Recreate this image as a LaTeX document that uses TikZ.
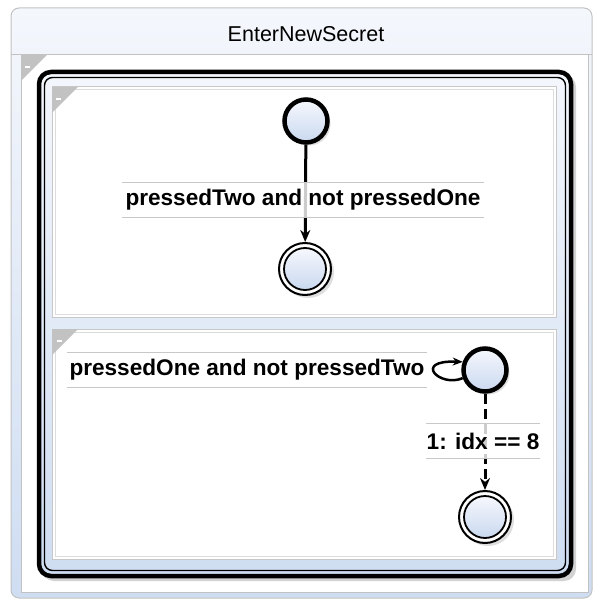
\documentclass[tikz,border=0pt]{standalone}
\usepackage{fontspec}
\setmainfont{Liberation Sans}
\usetikzlibrary{arrows.meta,shadows}
\definecolor{panelgray}{HTML}{C2C2C2}
\definecolor{regiongray}{HTML}{C8C8C8}
\definecolor{regionlight}{HTML}{DCDCDC}
\definecolor{lightblue}{HTML}{CFDDF2}
\definecolor{paleblue}{HTML}{F4F7FC}
\definecolor{statetop}{HTML}{F6F8FD}
\definecolor{statebottom}{HTML}{C9D8EF}
\definecolor{lblgray}{HTML}{C8C8C8}
\tikzset{
  statebox/.style={circle, draw=black, line width=4.5pt, minimum size=43pt, inner sep=0pt,
    top color=statetop, bottom color=statebottom,
    drop shadow={shadow xshift=3pt, shadow yshift=-3pt, opacity=0.25}},
  finalbox/.style={circle, draw=black, line width=2pt, minimum size=52pt, inner sep=0pt,
    fill=white, drop shadow={shadow xshift=3pt, shadow yshift=-3pt, opacity=0.25}},
  innerring/.style={draw=black, line width=1.8pt, top color=statetop, bottom color=statebottom},
  arr/.style={line width=3pt, -{Stealth[length=12pt,width=10pt]}},
  lblline/.style={draw=lblgray, line width=1.2pt},
  lbl/.style={font=\bfseries\fontsize{22.6}{22.6}\selectfont, fill=white, fill opacity=0.8,
    text opacity=1, minimum height=34pt, inner xsep=0pt, inner ysep=0pt},
  corner/.style={fill=panelgray, draw=none},
  dashmark/.style={draw=white, line width=1.2pt},
}
\begin{document}
\begin{tikzpicture}[x=1pt,y=-1pt]
\useasboundingbox (0,0) rectangle (593,601);
% outer box
\draw[draw=panelgray, line width=1pt, rounded corners=8pt, top color=paleblue, bottom color=lightblue]
  (11,8) rectangle (592,598);
\node[font=\fontsize{21.5}{21.5}\selectfont] (title) at (306,34) {EnterNewSecret};
% panel
\draw[draw=panelgray, line width=1pt, fill=white] (21,55) rectangle (588,592);
\draw[draw=panelgray, line width=1pt] (11,55) -- (592,55);
\fill[corner] (21,55) -- (47,55) -- (21,81) -- cycle;
\draw[dashmark] (25,67) -- (30,67);
% composite state border
\fill[gray, opacity=0.35, rounded corners=12pt] (42,75) rectangle (576,581);
\draw[line width=4.5pt, draw=black, rounded corners=12pt, top color=paleblue, bottom color=lightblue]
  (39,72) rectangle (571,576);
\draw[line width=1.4pt, draw=black, rounded corners=8pt] (44.5,77.5) rectangle (565.5,570.5);
% region 1
\draw[draw=regiongray, line width=1pt, fill=white] (52,87) rectangle (556,317);
\draw[draw=regionlight, line width=1pt] (55,90) rectangle (553,314);
\fill[corner] (52,87) -- (78,87) -- (52,113) -- cycle;
\draw[dashmark] (56,99) -- (61,99);
% region 2
\draw[draw=regiongray, line width=1pt, fill=white] (52,329) rectangle (556,559);
\draw[draw=regionlight, line width=1pt] (55,332) rectangle (553,556);
\fill[corner] (52,329) -- (78,329) -- (52,355) -- cycle;
\draw[dashmark] (57,341) -- (62,341);
% states
\node[statebox] (s1) at (306,121) {};
\node[finalbox] (f1) at (305,269) {};
\draw[innerring] (f1.center) circle[radius=21pt];
\node[statebox] (s2) at (485,370) {};
\node[finalbox] (f2) at (485,517) {};
\draw[innerring] (f2.center) circle[radius=21pt];
% transitions
\draw[arr] (s1) -- (f1);
\node[lbl, minimum width=361pt] (l1) at (303,200) {pressedTwo and not pressedOne};
\draw[lblline] (l1.north west) -- (l1.north east) (l1.south west) -- (l1.south east);
\draw[arr, line width=2.5pt, -{Stealth[length=10pt,width=8pt]}] (s2.200) .. controls (440,388) and (412,360) .. (s2.160);
\node[lbl, minimum width=360pt] (l2) at (247,370) {pressedOne and not pressedTwo};
\draw[lblline] (l2.north west) -- (l2.north east) (l2.south west) -- (l2.south east);
\draw[arr, dash pattern=on 10pt off 5pt] (s2) -- (f2);
\node[lbl, minimum width=113pt] (l3) at (483,441) {1: idx == 8};
\draw[lblline] (l3.north west) -- (l3.north east) (l3.south west) -- (l3.south east);
\end{tikzpicture}
\end{document}
